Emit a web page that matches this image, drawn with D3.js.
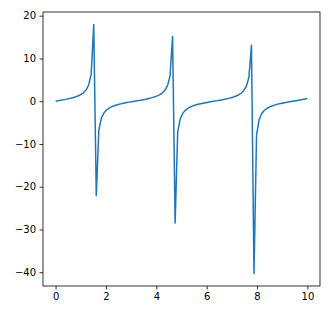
<!DOCTYPE html>
<html>
<head>
<meta charset="utf-8">
<script src="https://cdn.jsdelivr.net/npm/d3@7"></script>
<style>
	body { margin: 0; background: #fff; overflow: hidden; }
	svg { display: block; }
	.tick text { font-family: 'DejaVu Sans', sans-serif; font-size: 10px; fill: #000; }
	.tick line { stroke: #000; stroke-width: 0.8; }
	.line { fill: none; stroke: #1f77b4; stroke-width: 1.5; stroke-linejoin: round; }
</style>
</head>
<body>
<svg></svg>
<script>
// sample positions along x
const xs = [
	0, 0.101, 0.202, 0.303, 0.404, 0.505, 0.606, 0.707, 0.808, 0.909,
	1.010, 1.111, 1.212, 1.313, 1.414, 1.515, 1.616, 1.717, 1.818, 1.919,
	2.020, 2.121, 2.222, 2.323, 2.424, 2.525, 2.626, 2.727, 2.828, 2.929,
	3.030, 3.131, 3.232, 3.333, 3.434, 3.535, 3.636, 3.737, 3.838, 3.939,
	4.040, 4.141, 4.242, 4.343, 4.444, 4.545, 4.646, 4.747, 4.848, 4.949,
	5.051, 5.152, 5.253, 5.354, 5.455, 5.556, 5.657, 5.758, 5.859, 5.960,
	6.061, 6.162, 6.263, 6.364, 6.465, 6.566, 6.667, 6.768, 6.869, 6.970,
	7.071, 7.172, 7.273, 7.374, 7.475, 7.576, 7.677, 7.778, 7.879, 7.980,
	8.081, 8.182, 8.283, 8.384, 8.485, 8.586, 8.687, 8.788, 8.889, 8.990,
	9.091, 9.192, 9.293, 9.394, 9.495, 9.596, 9.697, 9.798, 9.899, 10
];

// values
const ys = [
	0, 0.1014, 0.2048, 0.3127, 0.4276, 0.5529, 0.6931, 0.8544, 1.0464, 1.2840,
	1.5926, 2.0200, 2.6674, 3.7947, 6.3312, 17.953, -22.028, -6.7829, -3.9595, -2.7532,
	-2.0733, -1.6295, -1.3116, -1.0682, -0.8724, -0.7084, -0.5664, -0.4398, -0.3240, -0.2156,
	-0.1118, -0.0103, 0.0910, 0.1941, 0.3014, 0.4155, 0.5395, 0.6780, 0.8368, 1.0251,
	1.2571, 1.5568, 1.9688, 2.5862, 3.6423, 5.9347, 15.147, -28.490, -7.3024, -4.1382,
	-2.8440, -2.1290, -1.6677, -1.3399, -1.0905, -0.8907, -0.7240, -0.5800, -0.4521, -0.3354,
	-0.2263, -0.1222, -0.0206, 0.0806, 0.1835, 0.2902, 0.4035, 0.5263, 0.6631, 0.8195,
	1.0043, 1.2309, 1.5222, 1.9197, 2.5093, 3.5010, 5.5837, 13.097, -40.305, -7.9062,
	-4.3328, -2.9402, -2.1871, -1.7073, -1.3690, -1.1132, -0.9093, -0.7397, -0.5939, -0.4645,
	-0.3469, -0.2372, -0.1326, -0.0309, 0.0703, 0.1729, 0.2791, 0.3916, 0.5133, 0.6484
];

const xTicks = [0, 2, 4, 6, 8, 10];
const yTicks = [-40, -30, -20, -10, 0, 10, 20];

const data = xs.map((x, i) => ({ x, y: ys[i] }));

const width = 329;
const height = 313;
const margin = { top: 12, right: 9, bottom: 27, left: 43 };
const innerWidth = width - margin.left - margin.right;
const innerHeight = height - margin.top - margin.bottom;

const pad = ([a, b]) => [a - (b - a) * 0.05, b + (b - a) * 0.05];

const svg = d3.select('svg')
	.attr('width', width)
	.attr('height', height);

const xScale = d3.scaleLinear()
	.domain(pad(d3.extent(data, d => d.x)))
	.range([0, innerWidth]);

const yScale = d3.scaleLinear()
	.domain(pad(d3.extent(data, d => d.y)))
	.range([innerHeight, 0]);

const g = svg.append('g')
	.attr('transform', `translate(${margin.left},${margin.top})`);

const xAxis = d3.axisBottom(xScale)
	.tickValues(xTicks)
	.tickFormat(d3.format('d'))
	.tickSize(3.5)
	.tickPadding(3.5);

const yAxis = d3.axisLeft(yScale)
	.tickValues(yTicks)
	.tickFormat(d3.format('d'))
	.tickSize(3.5)
	.tickPadding(3.5);

const xAxisGroup = g.append('g')
	.attr('transform', `translate(0,${innerHeight})`)
	.call(xAxis);
xAxisGroup.select('.domain').remove();

const yAxisGroup = g.append('g')
	.call(yAxis);
yAxisGroup.select('.domain').remove();

const lineGenerator = d3.line()
	.x(d => xScale(d.x))
	.y(d => yScale(d.y));

g.append('path')
	.attr('class', 'line')
	.attr('d', lineGenerator(data));

g.append('rect')
	.attr('width', innerWidth)
	.attr('height', innerHeight)
	.attr('fill', 'none')
	.attr('stroke', '#000')
	.attr('stroke-width', 0.8);
</script>
</body>
</html>
